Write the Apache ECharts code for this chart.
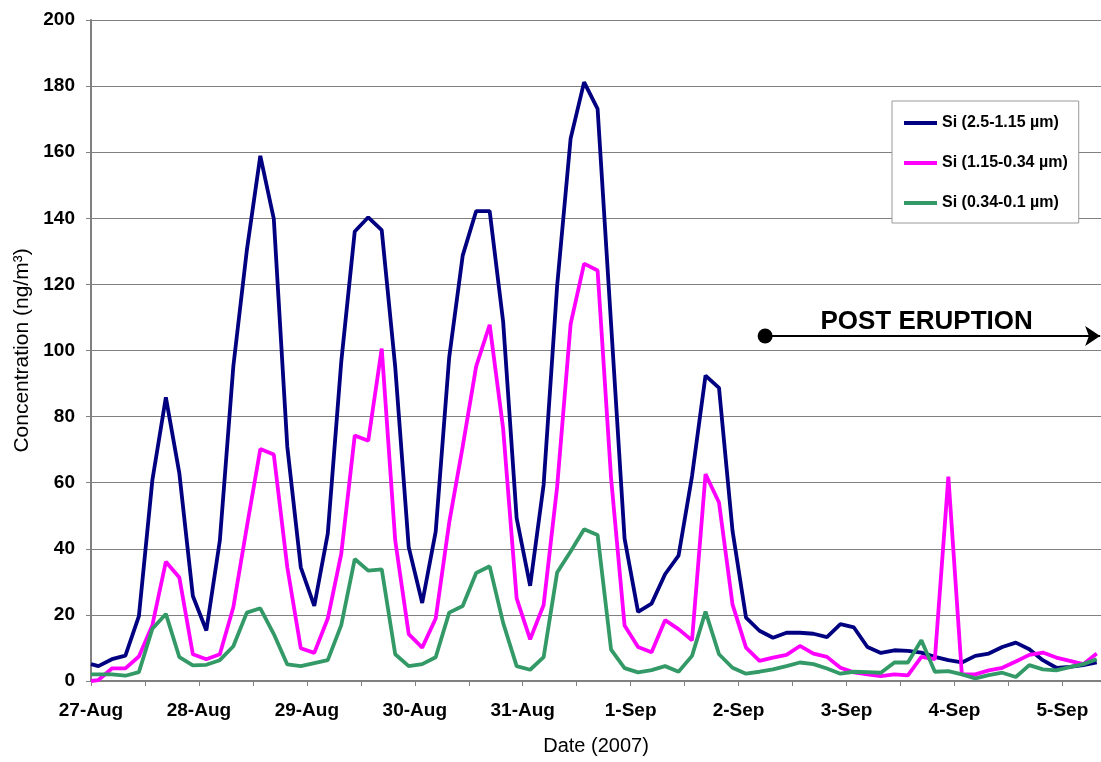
<!DOCTYPE html>
<html>
<head>
<meta charset="utf-8">
<script src="https://cdn.jsdelivr.net/npm/echarts@6/dist/echarts.min.js"></script>
<style>
html,body{margin:0;padding:0;background:#fff;}
#chart{width:1101px;height:762px;}
</style>
</head>
<body>
<div id="chart"></div>
<script>
// ---- data (3-hourly samples; first sample at the axis origin) ----
const dateLabels = ['27-Aug','28-Aug','29-Aug','30-Aug','31-Aug','1-Sep','2-Sep','3-Sep','4-Sep','5-Sep'];
const seriesNames = ['Si (2.5-1.15 µm)','Si (1.15-0.34 µm)','Si (0.34-0.1 µm)'];
const seriesColors = ['#000080','#FF00FF','#339966'];

const siCoarse = [5.1,
  4.5,6.6,7.7,19.6,60.8,85.8,62.8,25.7,15.3,42.5,
  95.2,130.3,158.9,139.8,70.9,34.4,22.7,44.6,96.6,136.0,
  140.3,136.4,95,40.5,23.6,45.2,97.9,128.7,142.2,142.2,
  108.7,49.3,28.8,59.4,119.5,164.1,181.2,173.1,108,43.1,
  20.9,23.4,32.3,37.9,62,92.4,88.7,45.5,19.2,15.2,
  13.1,14.6,14.6,14.3,13.3,17.2,16.2,10.3,8.5,9.3,
  9.1,8.6,7.3,6.3,5.6,7.6,8.3,10.3,11.6,9.6,
  6.3,4.0,4.3,4.8,5.6];
const siFine = [0,
  0.3,3.8,3.8,7.4,16.9,36.1,31.3,8.1,6.6,8.1,
  22.3,46.6,70.2,68.5,34.4,9.9,8.5,18.9,38.5,74.3,
  72.7,100.6,42.5,14.2,10.1,18.9,47.9,70.9,95.2,107.8,
  76.3,25.0,12.6,23.0,58.7,108.0,126.3,124.2,61.4,16.8,
  10.3,8.7,18.4,15.7,12.3,62.6,54.0,23.2,10.1,6.1,
  7.1,7.9,10.6,8.3,7.3,4.0,2.6,2.0,1.5,2.0,
  1.7,7.3,6.6,61.8,2.0,2.0,3.2,4.0,5.9,7.9,
  8.6,7.1,6.1,5.1,8.3];
const siUltrafine = [2.0,
  2.0,2.0,1.6,2.7,15.8,20.3,7.2,4.7,4.9,6.3,
  10.5,20.7,22.0,14.2,5.0,4.5,5.4,6.3,16.9,36.9,
  33.4,33.8,8.1,4.5,5.1,7.2,20.7,22.7,32.7,34.7,
  17.6,4.5,3.4,7.2,32.8,39.2,45.9,44.2,9.5,3.9,
  2.6,3.3,4.5,2.8,7.6,21.0,8.1,4.0,2.2,2.8,
  3.5,4.5,5.6,5.1,3.8,2.2,2.8,2.7,2.5,5.6,
  5.6,12.3,2.8,3.0,2.0,0.8,1.8,2.5,1.2,4.8,
  3.5,3.2,4.2,5.1,6.6];

const yTicks = {min:0, max:200, interval:20};
const eruption = {startDay:6.246, endDay:9.35, level:104.4, label:'POST ERUPTION'};

// sample times in days since 27-Aug 00:00: origin sample, then every 3 h
const SAMPLES_PER_DAY = 8, SAMPLE_OFFSET = 0.55;
function sampleDay(i){ return i === 0 ? 0 : (i - 1 + SAMPLE_OFFSET) / SAMPLES_PER_DAY; }
function pairs(vals){ return vals.map((v,i)=>[sampleDay(i), v]); }

const font = '"Liberation Sans", Arial, sans-serif';
const chart = echarts.init(document.getElementById('chart'), null, {renderer:'canvas'});

const seriesValues = [siCoarse, siFine, siUltrafine];
const series = seriesValues.map((vals, k)=>({
  name: seriesNames[k],
  type: 'line',
  data: pairs(vals),
  showSymbol: false,
  symbol: 'none',
  clip: true,
  lineStyle: {width: 3.8, color: seriesColors[k]},
  itemStyle: {color: seriesColors[k]},
  emphasis: {disabled: true},
  animation: false
}));

series[0].markLine = {
  silent: true,
  animation: false,
  symbol: ['circle','arrow'],
  symbolSize: [15, 15],
  lineStyle: {color:'#000', width:2.2, type:'solid'},
  label: {
    show: true,
    position: 'insideMiddleTop',
    distance: 1,
    formatter: eruption.label,
    color: '#000',
    fontFamily: font,
    fontWeight: 'bold',
    fontSize: 26,
    padding: [0, 12, 0, 0]
  },
  data: [[
    {coord:[eruption.startDay, eruption.level]},
    {coord:[eruption.endDay, eruption.level]}
  ]]
};

chart.setOption({
  animation: false,
  backgroundColor: '#fff',
  grid: {left: 91, right: 0, top: 20, bottom: 81, containLabel: false},
  legend: {
    orient: 'vertical',
    left: 892, top: 101,
    padding: [14, 11, 12, 12],
    itemGap: 24,
    itemWidth: 33, itemHeight: 4,
    icon: 'rect',
    borderColor: '#999', borderWidth: 1,
    backgroundColor: '#fff',
    data: seriesNames,
    textStyle: {fontFamily: font, fontWeight: 'bold', fontSize: 16, color: '#000'}
  },
  xAxis: {
    type: 'value',
    min: 0, max: 9.358, interval: 0.5,
    name: 'Date (2007)',
    nameLocation: 'middle',
    nameGap: 55,
    nameTextStyle: {fontFamily: font, fontSize: 20, color: '#000'},
    axisLine: {onZero: false, lineStyle: {color: '#808080', width: 2}},
    axisTick: {show: true, length: 5, lineStyle: {color: '#808080', width: 1}},
    axisLabel: {
      margin: 20,
      fontFamily: font, fontWeight: 'bold', fontSize: 19, color: '#000',
      showMaxLabel: false,
      formatter: v => (Math.abs(v - Math.round(v)) < 1e-6 && dateLabels[Math.round(v)]) ? dateLabels[Math.round(v)] : ''
    },
    splitLine: {show: false}
  },
  yAxis: {
    type: 'value',
    min: yTicks.min, max: yTicks.max, interval: yTicks.interval,
    name: 'Concentration (ng/m³)',
    nameLocation: 'middle',
    nameGap: 53,
    nameRotate: 90,
    nameTextStyle: {fontFamily: font, fontSize: 21, color: '#000'},
    axisLine: {show: true, lineStyle: {color: '#808080', width: 2}},
    axisTick: {show: true, length: 5, lineStyle: {color: '#808080', width: 1}},
    axisLabel: {margin: 16, fontFamily: font, fontWeight: 'bold', fontSize: 19, color: '#000'},
    splitLine: {show: true, lineStyle: {color: '#808080', width: 1}}
  },
  series: series
});
</script>
</body>
</html>
